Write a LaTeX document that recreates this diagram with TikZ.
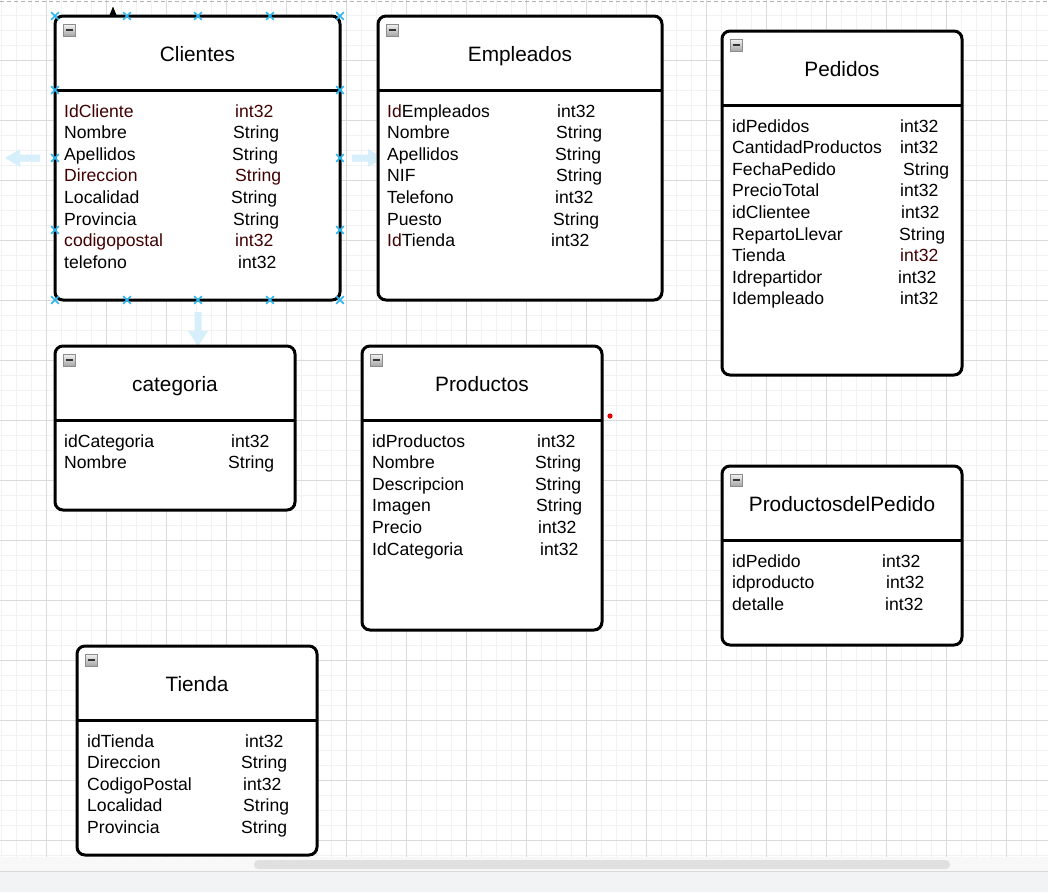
\documentclass[tikz,border=0pt]{standalone}
\usepackage{fontspec}
\setmainfont{Liberation Sans}
\definecolor{gmin}{HTML}{F2F2F2}
\definecolor{gmaj}{HTML}{DADADA}
\definecolor{selblue}{HTML}{29B6F2}
\definecolor{hintblue}{HTML}{D6EFFB}
\definecolor{txtred}{HTML}{420000}
\definecolor{panel}{HTML}{F2F3F5}
\definecolor{strip}{HTML}{F8F8F8}
\definecolor{scroll}{HTML}{E0E0E0}
\tikzset{
  tbl/.style={draw=black, line width=3pt, rounded corners=8pt, fill=white, anchor=north west, inner sep=0pt, outer sep=0pt},
  hdr/.style={draw=black, line width=3pt},
  ttl/.style={anchor=base, inner sep=0pt, font=\fontsize{20.8}{24}\selectfont},
  fname/.style={anchor=base west, inner sep=0pt, font=\fontsize{17.6}{20}\selectfont},
  ftype/.style={anchor=base west, inner sep=0pt, font=\fontsize{17.6}{20}\selectfont},
  icon/.style={draw=black!45, line width=0.8pt, top color=black!5, bottom color=black!35, minimum size=12pt, inner sep=0pt,
    path picture={\draw[line width=1.6pt, black!80] ([xshift=-3.5pt]path picture bounding box.center) -- ([xshift=3.5pt]path picture bounding box.center);}},
  hint/.style={fill=hintblue},
  selx/.style={draw=selblue, line width=1.5pt},
}
\newcommand{\fld}[6]{\node[fname] (#1n) at (#2,#3) {#4};\node[ftype] (#1t) at (#5,#3) {#6};}
\newcommand{\tblbox}[6]{% id, x, y, w, h, title
  \node[tbl, minimum width=#4pt, minimum height=#5pt] (#1) at (#2,#3) {};
  \draw[hdr] ([yshift=-74pt]#1.north west) -- ([yshift=-74pt]#1.north east);
  \node[ttl] (#1T) at ([yshift=-45pt]#1.north) {#6};
  \node[icon] (#1I) at ([xshift=14pt,yshift=-14pt]#1.north west) {};}
\begin{document}
\begin{tikzpicture}[x=1pt,y=-1pt]
\useasboundingbox (0,0) rectangle (1048,892);
% canvas
\fill[white] (0,0) rectangle (1048,857);
\foreach \x in {1.7,16.7,...,1048} \draw[gmin, line width=1pt] (\x,0) -- (\x,857);
\foreach \y in {15,30,...,855} \draw[gmin, line width=1pt] (0,\y) -- (1048,\y);
\foreach \x in {46.7,106.7,...,1048} \draw[gmaj, line width=1pt] (\x,0) -- (\x,857);
\foreach \y in {60,120,...,855} \draw[gmaj, line width=1pt] (0,\y) -- (1048,\y);
\draw[black!30, line width=1pt, dash pattern=on 4pt off 3pt] (0,1.5) -- (1048,1.5);
% bottom strip
\fill[strip] (0,857) rectangle (1048,871);
\fill[scroll, rounded corners=4.5pt] (254,860) rectangle (950,869);
\fill[panel] (0,871.5) rectangle (1048,892);
\draw[black!15, line width=1pt] (0,871) -- (1048,871);
% hint arrows
\fill[hint] (5,158) -- (20,149) -- (20,154.5) -- (40,154.5) -- (40,161.5) -- (20,161.5) -- (20,167) -- cycle;
\fill[hint] (383,158) -- (368,149) -- (368,154.5) -- (352,154.5) -- (352,161.5) -- (368,161.5) -- (368,167) -- cycle;
\fill[hint] (198,346) -- (188,331) -- (194.5,331) -- (194.5,312) -- (201.5,312) -- (201.5,331) -- (208,331) -- cycle;
% tables
\tblbox{clientes}{55}{16}{285}{284}{Clientes}
\tblbox{empleados}{378}{16}{284}{284}{Empleados}
\tblbox{pedidos}{722}{31}{240}{344}{Pedidos}
\tblbox{categoria}{55}{346}{240}{164}{categoria}
\tblbox{productos}{362}{346}{240}{284}{Productos}
\tblbox{pdp}{722}{466}{240}{179}{ProductosdelPedido}
\tblbox{tienda}{77}{646}{240}{209}{Tienda}
% Clientes fields
\fld{c1}{64}{117}{\color{txtred}IdCliente}{235}{\color{txtred}int32}
\fld{c2}{64}{138.6}{Nombre}{233}{String}
\fld{c3}{64}{160.2}{Apellidos}{232}{String}
\fld{c4}{64}{181.8}{\color{txtred}Direccion}{235}{\color{txtred}String}
\fld{c5}{64}{203.4}{Localidad}{231}{String}
\fld{c6}{64}{225}{Provincia}{233}{String}
\fld{c7}{64}{246.6}{\color{txtred}codigopostal}{235}{\color{txtred}int32}
\fld{c8}{64}{268.2}{telefono}{238}{int32}
% Empleados fields
\fld{e1}{387}{117}{{\color{txtred}Id}Empleados}{557}{int32}
\fld{e2}{387}{138.6}{Nombre}{556}{String}
\fld{e3}{387}{160.2}{Apellidos}{555}{String}
\fld{e4}{387}{181.8}{NIF}{556}{String}
\fld{e5}{387}{203.4}{Telefono}{555}{int32}
\fld{e6}{387}{225}{Puesto}{553}{String}
\fld{e7}{387}{246.6}{{\color{txtred}Id}Tienda}{551}{int32}
% Pedidos fields
\fld{p1}{732}{132}{idPedidos}{900}{int32}
\fld{p2}{732}{153.6}{CantidadProductos}{900}{int32}
\fld{p3}{732}{175.2}{FechaPedido}{903}{String}
\fld{p4}{732}{196.8}{PrecioTotal}{900}{int32}
\fld{p5}{732}{218.4}{idClientee}{901}{int32}
\fld{p6}{732}{240}{RepartoLlevar}{899}{String}
\fld{p7}{732}{261.6}{Tienda}{900}{\color{txtred}int32}
\fld{p8}{732}{283.2}{Idrepartidor}{898}{int32}
\fld{p9}{732}{304.8}{Idempleado}{900}{int32}
% categoria fields
\fld{k1}{64}{447}{idCategoria}{231}{int32}
\fld{k2}{64}{468.6}{Nombre}{228}{String}
% Productos fields
\fld{r1}{372}{447}{idProductos}{537}{int32}
\fld{r2}{372}{468.6}{Nombre}{535}{String}
\fld{r3}{372}{490.2}{Descripcion}{535}{String}
\fld{r4}{372}{511.8}{Imagen}{536}{String}
\fld{r5}{372}{533.4}{Precio}{538}{int32}
\fld{r6}{372}{555}{IdCategoria}{540}{int32}
% ProductosdelPedido fields
\fld{d1}{732}{567}{idPedido}{882}{int32}
\fld{d2}{732}{588.6}{idproducto}{886}{int32}
\fld{d3}{732}{610.2}{detalle}{885}{int32}
% Tienda fields
\fld{t1}{87}{747}{idTienda}{245}{int32}
\fld{t2}{87}{768.6}{Direccion}{241}{String}
\fld{t3}{87}{790.2}{CodigoPostal}{243}{int32}
\fld{t4}{87}{811.8}{Localidad}{243}{String}
\fld{t5}{87}{833.4}{Provincia}{241}{String}
% selection markers on Clientes
\foreach \px/\py in {55/16,127/16,198/16,270/16,340/16,55/300,127/300,198/300,270/300,340/300,55/90,55/158,55/230,340/90,340/158,340/230}
  \draw[selx] (\px-3.8,\py-3.8) -- (\px+3.8,\py+3.8) (\px-3.8,\py+3.8) -- (\px+3.8,\py-3.8);
\fill[black] (109.5,15) -- (116.5,15) -- (113,6.5) -- cycle;
\fill[red!90!black] (610,416) circle (2.6);
\end{tikzpicture}
\end{document}
